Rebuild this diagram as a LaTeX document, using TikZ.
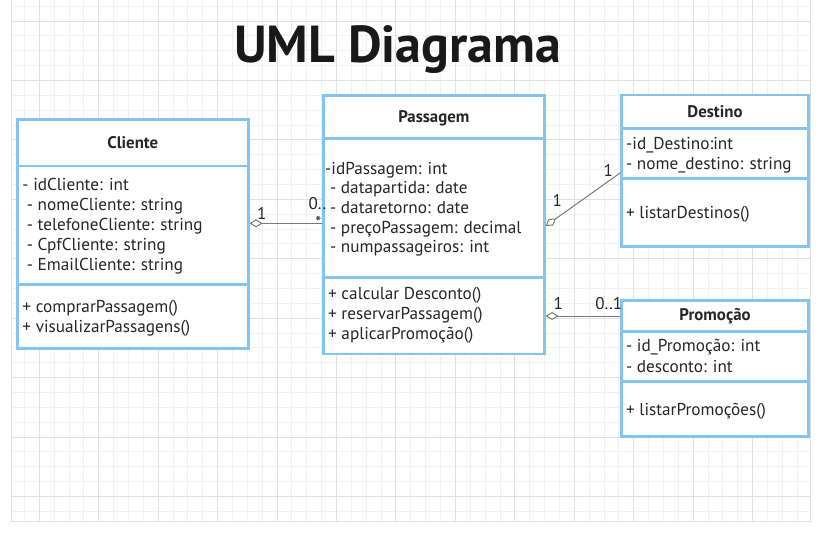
\documentclass[tikz,border=0pt]{standalone}
\usepackage{fontspec}
\setmainfont{PT Sans}
\usetikzlibrary{arrows.meta}
\definecolor{boxblue}{HTML}{82C4F2}
\definecolor{gridminor}{HTML}{F1F1F1}
\definecolor{gridmajor}{HTML}{E1E1E1}
\definecolor{linegray}{HTML}{7A7A7A}
\definecolor{txt}{HTML}{262626}
\begin{document}
\begin{tikzpicture}[x=1pt,y=-1pt,
  classbox/.style={draw=boxblue, line width=2.5pt, fill=white, inner sep=0pt},
  divider/.style={draw=boxblue, line width=2.5pt},
  classtitle/.style={anchor=base, inner sep=0pt, font=\bfseries\fontsize{16.8}{20}\selectfont, text=txt},
  member/.style={anchor=base west, inner sep=0pt, font=\fontsize{17.2}{20}\selectfont, text=txt},
  assoc/.style={draw=linegray, line width=1pt},
  agg/.style={assoc, {Diamond[length=13pt, width=8pt, fill=white]}-},
  mult/.style={anchor=center, inner sep=0pt, font=\fontsize{17}{20}\selectfont, text=txt},
  minorline/.style={draw=gridminor, line width=0.9pt},
  majorline/.style={draw=gridmajor, line width=1pt}
]
\useasboundingbox (0,0) rectangle (828,550);
\fill[white] (0,0) rectangle (828,550);
% grid
\begin{scope}
\clip (11,0) rectangle (810,521.7);
\foreach \k in {-2,...,52} {\draw[minorline] ({39.3+\k*14.86},0) -- ({39.3+\k*14.86},522);}
\foreach \k in {-2,...,34} {\draw[minorline] (0,{21+\k*14.86}) -- (828,{21+\k*14.86});}
\foreach \k in {0,...,13} {\draw[majorline] ({39.3+\k*59.44},0) -- ({39.3+\k*59.44},522);}
\foreach \k in {0,...,9} {\draw[majorline] (0,{21+\k*59.44}) -- (828,{21+\k*59.44});}
\end{scope}
\draw[majorline] (11,0) -- (11,521.7) -- (810,521.7) -- (810,0);

% title
\node[anchor=base, inner sep=0pt, font=\bfseries\fontsize{52}{60}\selectfont, text=black!90] (title) at (397.6,62.7) {UML Diagrama};

% class boxes
\node[classbox, minimum width=231pt, minimum height=229pt] (cliente) at (132.8,233.8) {};
\node[classbox, minimum width=221pt, minimum height=258.3pt] (passagem) at (433.8,224.85) {};
\node[classbox, minimum width=186.6pt, minimum height=151.7pt] (destino) at (715,170.85) {};
\node[classbox, minimum width=186.6pt, minimum height=136pt] (promo) at (715,368.7) {};

% dividers
\draw[divider] (cliente.west |- 0,166) -- (cliente.east |- 0,166);
\draw[divider] (cliente.west |- 0,284.3) -- (cliente.east |- 0,284.3);
\draw[divider] (passagem.west |- 0,138.3) -- (passagem.east |- 0,138.3);
\draw[divider] (passagem.west |- 0,277.3) -- (passagem.east |- 0,277.3);
\draw[divider] (destino.west |- 0,128.3) -- (destino.east |- 0,128.3);
\draw[divider] (destino.west |- 0,178.3) -- (destino.east |- 0,178.3);
\draw[divider] (promo.west |- 0,331.7) -- (promo.east |- 0,331.7);
\draw[divider] (promo.west |- 0,381.7) -- (promo.east |- 0,381.7);

% Cliente
\node[classtitle] (clienteT) at (132.8,148) {Cliente};
\node[member] (c1) at (22.3,190.5) {- idCliente: int};
\node[member] (c2) at (26.7,210.7) {- nomeCliente: string};
\node[member] (c3) at (26.7,230.9) {- telefoneCliente: string};
\node[member] (c4) at (26.7,250.7) {- CpfCliente: string};
\node[member] (c5) at (26.7,270.7) {- EmailCliente: string};
\node[member] (c6) at (22.3,312.2) {+ comprarPassagem()};
\node[member] (c7) at (22.3,332.2) {+ visualizarPassagens()};

% Passagem
\node[classtitle] (passagemT) at (433.8,122.5) {Passagem};
\node[member] (p1) at (325,174) {-idPassagem: int};
\node[member] (p2) at (330,193.8) {- datapartida: date};
\node[member] (p3) at (330,213.7) {- dataretorno: date};
\node[member] (p4) at (330,233.1) {- preçoPassagem: decimal};
\node[member] (p5) at (330,252.9) {- numpassageiros: int};
\node[member] (p6) at (328,299.5) {+ calcular Desconto()};
\node[member] (p7) at (328,319.5) {+ reservarPassagem()};
\node[member] (p8) at (328,339) {+ aplicarPromoção()};

% Destino
\node[classtitle] (destinoT) at (715,117.5) {Destino};
\node[member] (d1) at (626,149) {-id\_Destino:int};
\node[member] (d2) at (626,169.5) {- nome\_destino: string};
\node[member] (d3) at (626,218.2) {+ listarDestinos()};

% Promocao
\node[classtitle] (promoT) at (715,320.5) {Promoção};
\node[member] (r1) at (626,351.5) {- id\_Promoção: int};
\node[member] (r2) at (626,372.2) {- desconto: int};
\node[member] (r3) at (626,415.5) {+ listarPromoções()};

% connectors
\draw[agg] (cliente.east |- 0,223.3) -- (passagem.west |- 0,223.3);
\draw[agg] (passagem.east |- 0,226) -- (destino.west |- 0,172.7);
\draw[agg] (passagem.east |- 0,316) -- (promo.west |- 0,316);

% multiplicities
\node[mult] (m1) at (261.7,213.3) {1};
\node[mult] (m2) at (317.5,203.3) {0..};
\node[mult] (m3) at (318.3,222) {*};
\node[mult] (m4) at (557.3,200) {1};
\node[mult] (m5) at (608.3,170.7) {1};
\node[mult] (m6) at (558.3,303.3) {1};
\node[mult] (m7) at (608.8,303.3) {0..1};
\end{tikzpicture}
\end{document}
